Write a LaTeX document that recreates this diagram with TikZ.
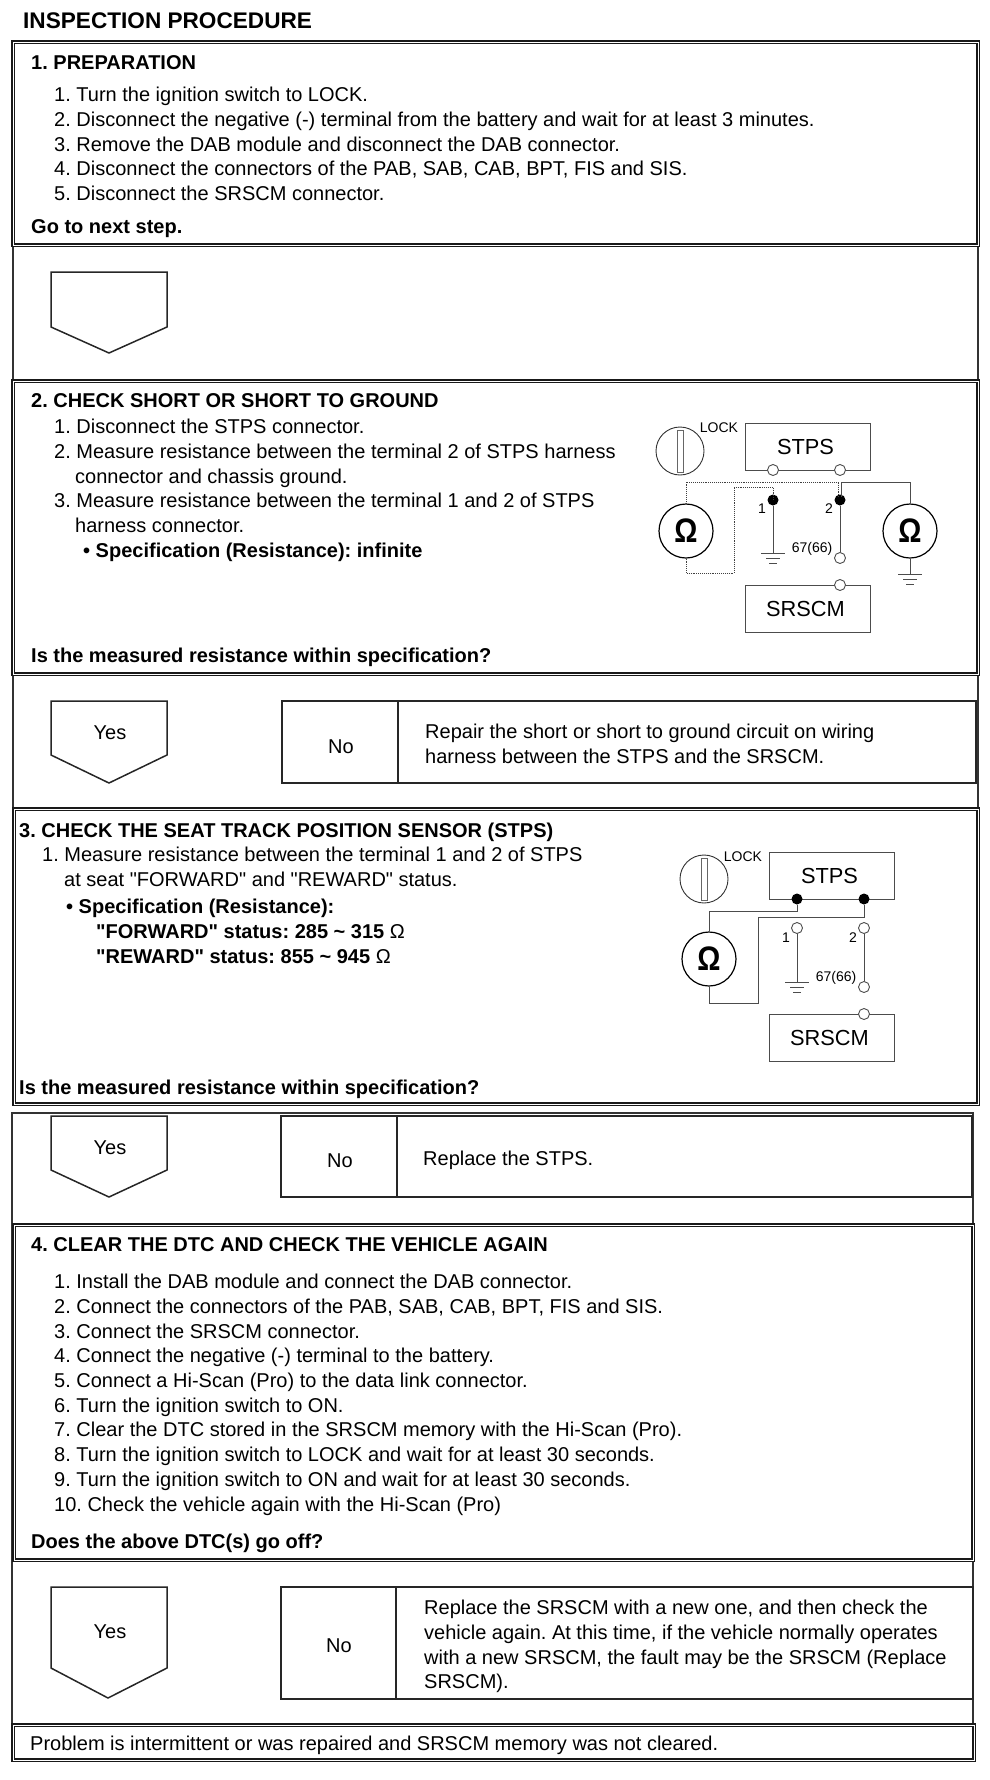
\documentclass[tikz,border=0pt]{standalone}
\usepackage{fontspec}
\newfontfamily\sheetfont{Liberation Sans}
\usetikzlibrary{positioning}
\newcommand{\bodysize}{\sheetfont\frenchspacing\fontsize{20}{24.7}\selectfont}
\newcommand{\labelsize}{\sheetfont\fontsize{21.8}{24}\selectfont}
\newcommand{\tinysize}{\sheetfont\fontsize{14}{16}\selectfont}
\newcommand{\ohmsign}{\scalebox{0.85}[1]{Ω}}

\begin{document}
\begin{tikzpicture}[
    x=1pt, y=-1pt,
    outline/.style={draw=black!80, line width=1.5pt, anchor=north west, inner sep=0pt, outer sep=0pt},
    panel/.style={draw=black!90, fill=white, double, double distance=0.7pt, line width=1.4pt, anchor=north west, inner sep=0pt, outer sep=0pt},
    answerbox/.style={draw=black!85, line width=1.5pt, anchor=north west, inner sep=0pt, outer sep=0pt, font=\bodysize},
    txt/.style={anchor=north west, inner sep=0pt, align=left, font=\bodysize},
    boldtxt/.style={txt, font=\bodysize\bfseries},
    flag/.style={draw=black!85, line width=1.5pt, line join=miter},
    part/.style={draw=black!70, line width=1pt, minimum width=125pt, minimum height=47pt, inner sep=0pt, font=\labelsize},
    wire/.style={draw=black!70, line width=1pt},
    dottedwire/.style={draw=black!75, line width=0.9pt, densely dotted},
    meter/.style={circle, draw=black, fill=white, line width=1.2pt, minimum size=54pt, inner sep=0pt, font=\sheetfont\bfseries\fontsize{34}{34}\selectfont},
    keyhole/.style={circle, draw=black!80, line width=0.9pt, minimum size=48pt, inner sep=0pt},
    keyslot/.style={draw=black!60, line width=0.8pt, minimum width=6pt, minimum height=42pt, inner sep=0pt},
    terminal/.style={circle, draw=black!70, fill=white, line width=0.9pt, minimum size=11pt, inner sep=0pt},
    blackdot/.style={circle, fill=black, minimum size=11pt, inner sep=0pt},
    small/.style={inner sep=0pt, font=\tinysize},
    groundmark/.pic={
        \draw[wire] (-12,0) -- (12,0);
        \draw[wire] (-7,5) -- (7,5);
        \draw[wire] (-4,10) -- (4,10);
    }
]
    \useasboundingbox (0,0) rectangle (990,1780);

    % frames
    \node[outline, minimum width=965pt, minimum height=1062pt] (upperframe) at (13,42) {};
    \node[outline, minimum width=961pt, minimum height=647pt] (lowerframe) at (12,1113) {};
    \node[panel, minimum width=965pt, minimum height=203pt] (prep) at (13,42) {};
    \node[panel, minimum width=965pt, minimum height=293pt] (shortcheck) at (13,381) {};
    \node[panel, minimum width=964pt, minimum height=295pt] (sensorcheck) at (14,809) {};
    \node[panel, minimum width=959pt, minimum height=335pt] (clear) at (14,1225) {};
    \node[panel, minimum width=961pt, minimum height=35pt] (finish) at (13,1725) {};

    \node[inner sep=0pt, anchor=north west, font=\sheetfont\bfseries\fontsize{22.6}{24}\selectfont] (title) at (23,13) {INSPECTION PROCEDURE};

    % step 1
    \node[boldtxt] (prephead) at (31,55) {1. PREPARATION};
    \node[txt] (preplist) at (54,87) {1. Turn the ignition switch to LOCK.\\
        2. Disconnect the negative (-) terminal from the battery and wait for at least 3 minutes.\\
        3. Remove the DAB module and disconnect the DAB connector.\\
        4. Disconnect the connectors of the PAB, SAB, CAB, BPT, FIS and SIS.\\
        5. Disconnect the SRSCM connector.};
    \node[boldtxt] (prepnext) at (31,219) {Go to next step.};
    \draw[flag] (51,272) -- (167,272) -- (167,327) -- (109,353) -- (51,327) -- cycle;

    % step 2
    \node[boldtxt] (shorthead) at (31,393) {2. CHECK SHORT OR SHORT TO GROUND};
    \node[txt] (shortlist) at (54,419) {1. Disconnect the STPS connector.\\
        2. Measure resistance between the terminal 2 of STPS harness\\
        \hspace*{21pt}connector and chassis ground.\\
        3. Measure resistance between the terminal 1 and 2 of STPS\\
        \hspace*{21pt}harness connector.};
    \node[boldtxt] (shortspec) at (83,543) {• Specification (Resistance): infinite};
    \node[boldtxt] (shortask) at (31,648) {Is the measured resistance within specification?};

    % circuit of step 2
    \node[keyhole] (keya) at (680,451) {};
    \node[keyslot] (slota) at (680,451) {};
    \node[small] (locka) at (719,428) {LOCK};
    \node[part] (stpsa) at (807.5,446.5) {\hspace*{-4pt}STPS};
    \node[part] (srscma) at (807.5,608.5) {\hspace*{-4pt}SRSCM};
    \node[terminal] (stpsaone) at (773,470) {};
    \node[terminal] (stpsatwo) at (840,470) {};
    \node[terminal] (srscmapin) at (840,585) {};
    \node[blackdot] (dotaone) at (773,500) {};
    \node[blackdot] (dotatwo) at (840,500) {};
    \node[terminal] (endatwo) at (840,558) {};
    \node[small] (labelaone) at (762,509) {1};
    \node[small] (labelatwo) at (829,509) {2};
    \node[small] (pina) at (812,549) {67(66)};
    \node[meter] (ohmaleft) at (686,531) {\ohmsign};
    \node[meter] (ohmaright) at (910,531) {\ohmsign};
    \coordinate (gnda) at (773,553);
    \coordinate (gndb) at (910,574);
    \coordinate (cornera) at (686,482);
    \coordinate (cornerb) at (686,573);
    \coordinate (cornerc) at (734,573);
    \coordinate (cornerd) at (734,487);
    \coordinate (cornere) at (841,482);
    \coordinate (dottedend) at (838.5,497);
    \coordinate (solidend) at (841,497);
    \draw[dottedwire] (ohmaleft.north) -- (cornera) -| (dottedend);
    \draw[dottedwire] (ohmaleft.south) -- (cornerb) -- (cornerc) -- (cornerd) -| (dotaone.center);
    \draw[wire] (solidend) -- (cornere) -| (ohmaright.north);
    \draw[wire] (dotaone) -- (gnda);
    \draw[wire] (dotatwo) -- (endatwo);
    \draw[wire] (ohmaright.south) -- (gndb);
    \pic at (gnda) {groundmark};
    \pic at (gndb) {groundmark};

    % answers of step 2
    \draw[flag] (51,701) -- (167,701) -- (167,755) -- (109,783) -- (51,755) -- cycle;
    \node[inner sep=0pt, font=\bodysize] (yesa) at (110,733) {Yes};
    \node[answerbox, minimum width=116pt, minimum height=82pt] (noa) at (282,701) {};
    \node[inner sep=0pt, font=\bodysize] (notxta) at (341,747) {No};
    \node[answerbox, minimum width=578pt, minimum height=82pt] (fixa) at (398,701) {};
    \node[txt] (fixtxta) at (425,724) {Repair the short or short to ground circuit on wiring\\harness between the STPS and the SRSCM.};

    % step 3
    \node[boldtxt] (sensorhead) at (19,823) {3. CHECK THE SEAT TRACK POSITION SENSOR (STPS)};
    \node[txt] (sensorlist) at (42,847) {1. Measure resistance between the terminal 1 and 2 of STPS\\
        \hspace*{22pt}at seat "FORWARD" and "REWARD" status.};
    \node[boldtxt] (sensorspec) at (66,899) {• Specification (Resistance):\\
        \hspace*{30pt}"FORWARD" status: 285 \textasciitilde{} 315 {\mdseries Ω}\\
        \hspace*{30pt}"REWARD" status: 855 \textasciitilde{} 945 {\mdseries Ω}};
    \node[boldtxt] (sensorask) at (19,1080) {Is the measured resistance within specification?};

    % circuit of step 3
    \node[keyhole] (keyb) at (704,879) {};
    \node[keyslot] (slotb) at (704,879) {};
    \node[small] (lockb) at (743,857) {LOCK};
    \node[part] (stpsb) at (831.5,875.5) {\hspace*{-4pt}STPS};
    \node[part] (srscmb) at (831.5,1037.5) {\hspace*{-4pt}SRSCM};
    \node[blackdot] (stpsbone) at (797,899) {};
    \node[blackdot] (stpsbtwo) at (864,899) {};
    \node[terminal] (srscmbpin) at (864,1014) {};
    \node[terminal] (openbone) at (797,928) {};
    \node[terminal] (openbtwo) at (864,928) {};
    \node[terminal] (endbtwo) at (864,987) {};
    \node[small] (labelbone) at (786,938) {1};
    \node[small] (labelbtwo) at (853,938) {2};
    \node[small] (pinb) at (836,978) {67(66)};
    \node[meter] (ohmb) at (709,959) {\ohmsign};
    \coordinate (gndc) at (797,982);
    \coordinate (cornerf) at (797,911);
    \coordinate (cornerg) at (709,1003);
    \coordinate (cornerh) at (758,1003);
    \coordinate (corneri) at (758,917);
    \draw[wire] (stpsbone) -- (cornerf) -| (ohmb.north);
    \draw[wire] (ohmb.south) -- (cornerg) -- (cornerh) -- (corneri) -| (stpsbtwo);
    \draw[wire] (openbone) -- (gndc);
    \draw[wire] (openbtwo) -- (endbtwo);
    \pic at (gndc) {groundmark};

    % answers of step 3
    \draw[flag] (51,1116) -- (167,1116) -- (167,1170) -- (109,1197) -- (51,1170) -- cycle;
    \node[inner sep=0pt, font=\bodysize] (yesb) at (110,1148) {Yes};
    \node[answerbox, minimum width=116pt, minimum height=81pt] (nob) at (281,1116) {};
    \node[inner sep=0pt, font=\bodysize] (notxtb) at (340,1161) {No};
    \node[answerbox, minimum width=575pt, minimum height=81pt] (fixb) at (397,1116) {};
    \node[txt] (fixtxtb) at (423,1151) {Replace the STPS.};

    % step 4
    \node[boldtxt] (clearhead) at (31,1237) {4. CLEAR THE DTC AND CHECK THE VEHICLE AGAIN};
    \node[txt] (clearlist) at (54,1274) {1. Install the DAB module and connect the DAB connector.\\
        2. Connect the connectors of the PAB, SAB, CAB, BPT, FIS and SIS.\\
        3. Connect the SRSCM connector.\\
        4. Connect the negative (-) terminal to the battery.\\
        5. Connect a Hi-Scan (Pro) to the data link connector.\\
        6. Turn the ignition switch to ON.\\
        7. Clear the DTC stored in the SRSCM memory with the Hi-Scan (Pro).\\
        8. Turn the ignition switch to LOCK and wait for at least 30 seconds.\\
        9. Turn the ignition switch to ON and wait for at least 30 seconds.\\
        10. Check the vehicle again with the Hi-Scan (Pro)};
    \node[boldtxt] (clearask) at (31,1534) {Does the above DTC(s) go off?};

    % answers of step 4
    \draw[flag] (51,1587) -- (167,1587) -- (167,1668) -- (108,1698) -- (51,1668) -- cycle;
    \node[inner sep=0pt, font=\bodysize] (yesc) at (110,1632) {Yes};
    \node[answerbox, minimum width=115pt, minimum height=112pt] (noc) at (281,1587) {};
    \node[inner sep=0pt, font=\bodysize] (notxtc) at (339,1646) {No};
    \node[answerbox, minimum width=577pt, minimum height=112pt] (fixc) at (396,1587) {};
    \node[txt] (fixtxtc) at (424,1600) {Replace the SRSCM with a new one, and then check the\\
        vehicle again. At this time, if the vehicle normally operates\\
        with a new SRSCM, the fault may be the SRSCM (Replace\\
        SRSCM).};

    \node[txt] (finishtxt) at (30,1736) {Problem is intermittent or was repaired and SRSCM memory was not cleared.};
\end{tikzpicture}
\end{document}
